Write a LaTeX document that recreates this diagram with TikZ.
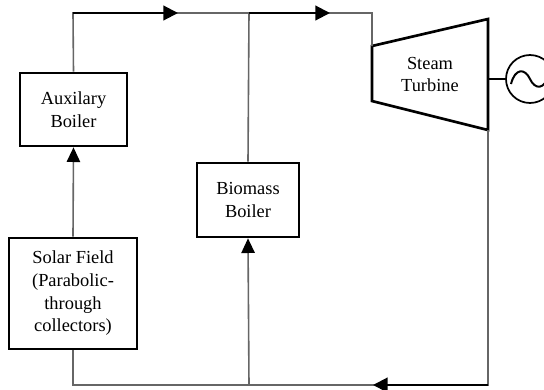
\documentclass[tikz,border=0pt]{standalone}
\usepackage{fontspec}
\setmainfont{Liberation Serif}
\usetikzlibrary{arrows.meta}
\tikzset{
  blk/.style={draw=black, line width=2pt, fill=white, align=center, inner sep=0pt,
    font=\fontsize{13.8pt}{17pt}\selectfont},
  pipe/.style={draw=black!60, line width=1.2pt},
  flow/.style={draw=black, line width=1.6pt, -{Triangle[length=11pt,width=11pt]}},
  tip/.style={pipe, -{Triangle[length=11pt,width=10pt,fill=black,color=black]}},
  lbl/.style={align=center, font=\fontsize{13.8pt}{16.5pt}\selectfont, inner sep=0pt}
}
\begin{document}
\begin{tikzpicture}[x=0.75pt,y=-0.75pt]
\useasboundingbox (0,0) rectangle (544,390);
% boxes
\node[blk, minimum width=80.25pt, minimum height=54.75pt] (aux) at (73.5,109.5) {Auxilary\\Boiler};
\node[blk, minimum width=96pt, minimum height=83.25pt] (solar) at (73,293.5) {Solar Field\\(Parabolic-\\through\\collectors)};
\node[blk, minimum width=76.5pt, minimum height=55.5pt] (bio) at (248,200) {Biomass\\Boiler};
% turbine
\coordinate (ttl) at (372,46);
\coordinate (ttr) at (488,19);
\coordinate (tbr) at (488,130);
\coordinate (tbl) at (372,101);
\draw[black, line width=2pt, line join=miter] (ttl) -- (ttr) -- (tbr) -- (tbl) -- cycle;
\node[lbl] (turb) at (430,74) {Steam\\Turbine};
% generator
\node[draw=black, line width=1.3pt, circle, minimum size=36pt, inner sep=0pt] (gen) at (530,79) {};
\coordinate (shaft) at (488,79);
\draw[black, line width=1.3pt] (shaft) -- (gen.west);
\draw[black, line width=1.5pt] (511,84) .. controls (515,68) and (525,68) .. (530,79) .. controls (535,90) and (545,90) .. (549,74);
% pipe corners
\coordinate (c1) at (73,13);
\coordinate (c2) at (249,13);
\coordinate (c3) at (372,13);
\coordinate (a1) at (178,13);
\coordinate (a2) at (330,13);
\coordinate (b1) at (73,385);
\coordinate (b2) at (249,385);
\coordinate (b3) at (488,385);
\coordinate (a3) at (373,385);
% gray pipes
\draw[pipe] (aux.north) -- (c1) -- (c3) -- (ttl);
\draw[pipe] (bio.north) -- (c2);
\draw[pipe] (solar.south) -- (b1) -- (b3) -- (tbr);
\draw[tip] (solar.north) -- (aux.south);
\draw[tip] (b2) -- (bio.south);
% black flow arrows
\draw[flow] (c1) -- (a1);
\draw[flow] (c2) -- (a2);
\draw[flow] (b3) -- (a3);
\end{tikzpicture}
\end{document}
